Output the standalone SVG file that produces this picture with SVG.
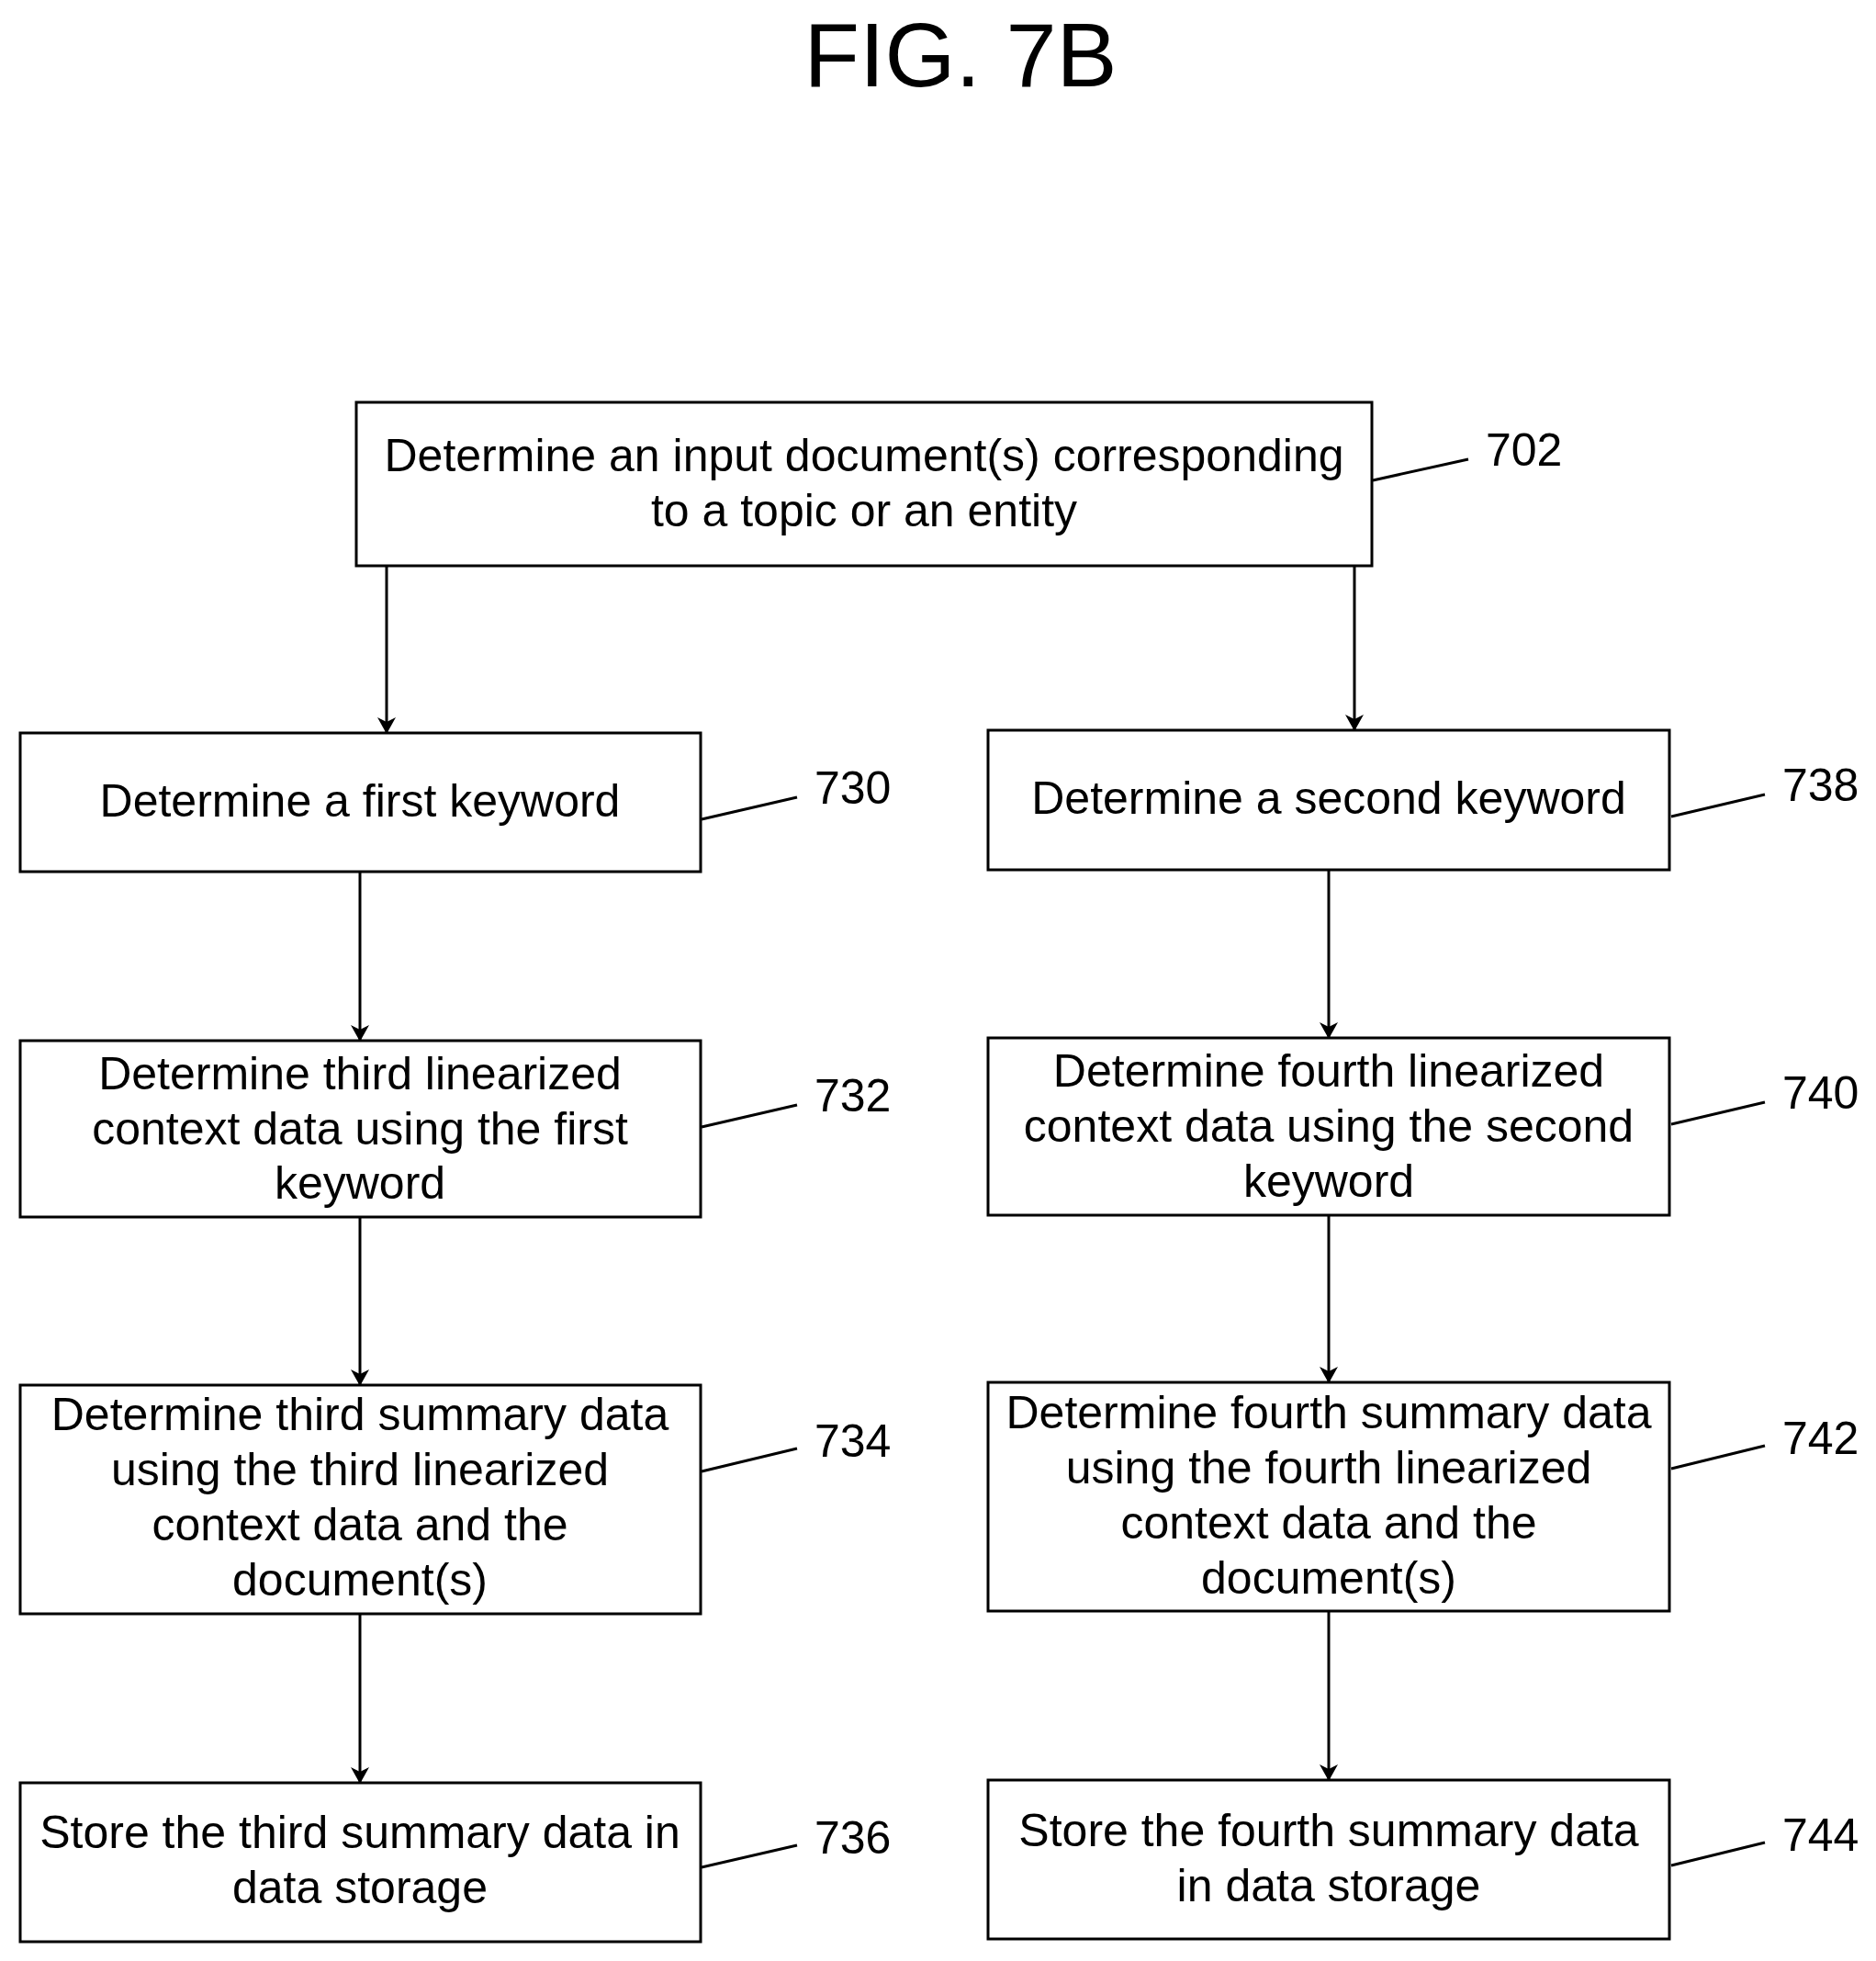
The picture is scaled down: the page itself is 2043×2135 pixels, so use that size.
<svg xmlns="http://www.w3.org/2000/svg" width="2043" height="2135" viewBox="0 0 2043 2135">
<style>
rect.b{fill:#fff;stroke:#000;stroke-width:3}
text{font-family:"Liberation Sans",Arial,sans-serif;font-size:50px;fill:#000}
.c{text-anchor:middle}
.ld{stroke:#000;stroke-width:3;fill:none}
.ar{stroke:#000;stroke-width:3;fill:none;marker-end:url(#ah)}
</style>
<defs><marker id="ah" markerWidth="18" markerHeight="30" refX="17" refY="15" orient="auto" markerUnits="userSpaceOnUse"><path d="M0,5 L18,15 L0,25 L5,15 Z" fill="#000"/></marker></defs>
<rect width="2043" height="2135" fill="#fff"/>
<text x="1046" y="94" class="c" style="font-size:99px">FIG. 7B</text>
<g id="n702"><rect class="b" x="388" y="438" width="1106" height="178"/><text x="941" y="513" class="c">Determine an input document(s) corresponding</text><text x="941" y="573" class="c">to a topic or an entity</text><text x="1618" y="507">702</text><line class="ld" x1="1495" y1="523" x2="1599" y2="500"/></g>
<g id="n730"><rect class="b" x="22" y="798" width="741" height="151"/><text x="392" y="889" class="c">Determine a first keyword</text><text x="887" y="875">730</text><line class="ld" x1="764" y1="892" x2="868" y2="868"/></g>
<g id="n738"><rect class="b" x="1076" y="795" width="742" height="152"/><text x="1447" y="886" class="c">Determine a second keyword</text><text x="1941" y="872">738</text><line class="ld" x1="1820" y1="889" x2="1922" y2="865"/></g>
<g id="n732"><rect class="b" x="22" y="1133" width="741" height="192"/><text x="392" y="1186" class="c">Determine third linearized</text><text x="392" y="1246" class="c">context data using the first</text><text x="392" y="1305" class="c">keyword</text><text x="887" y="1210">732</text><line class="ld" x1="764" y1="1227" x2="868" y2="1203"/></g>
<g id="n740"><rect class="b" x="1076" y="1130" width="742" height="193"/><text x="1447" y="1183" class="c">Determine fourth linearized</text><text x="1447" y="1243" class="c">context data using the second</text><text x="1447" y="1303" class="c">keyword</text><text x="1941" y="1207">740</text><line class="ld" x1="1820" y1="1224" x2="1922" y2="1200"/></g>
<g id="n734"><rect class="b" x="22" y="1508" width="741" height="249"/><text x="392" y="1557" class="c">Determine third summary data</text><text x="392" y="1617" class="c">using the third linearized</text><text x="392" y="1677" class="c">context data and the</text><text x="392" y="1737" class="c">document(s)</text><text x="887" y="1586">734</text><line class="ld" x1="764" y1="1602" x2="868" y2="1577"/></g>
<g id="n742"><rect class="b" x="1076" y="1505" width="742" height="249"/><text x="1447" y="1555" class="c">Determine fourth summary data</text><text x="1447" y="1615" class="c">using the fourth linearized</text><text x="1447" y="1675" class="c">context data and the</text><text x="1447" y="1735" class="c">document(s)</text><text x="1941" y="1583">742</text><line class="ld" x1="1820" y1="1599" x2="1922" y2="1574"/></g>
<g id="n736"><rect class="b" x="22" y="1941" width="741" height="173"/><text x="392" y="2012" class="c">Store the third summary data in</text><text x="392" y="2072" class="c">data storage</text><text x="887" y="2018">736</text><line class="ld" x1="764" y1="2033" x2="868" y2="2009"/></g>
<g id="n744"><rect class="b" x="1076" y="1938" width="742" height="173"/><text x="1447" y="2010" class="c">Store the fourth summary data</text><text x="1447" y="2070" class="c">in data storage</text><text x="1941" y="2015">744</text><line class="ld" x1="1820" y1="2031" x2="1922" y2="2006"/></g>
<g id="connectors">
<line class="ar" x1="421" y1="616" x2="421" y2="798"/>
<line class="ar" x1="1475" y1="616" x2="1475" y2="795"/>
<line class="ar" x1="392" y1="949" x2="392" y2="1133"/>
<line class="ar" x1="1447" y1="947" x2="1447" y2="1130"/>
<line class="ar" x1="392" y1="1325" x2="392" y2="1508"/>
<line class="ar" x1="1447" y1="1323" x2="1447" y2="1505"/>
<line class="ar" x1="392" y1="1757" x2="392" y2="1941"/>
<line class="ar" x1="1447" y1="1754" x2="1447" y2="1938"/>
</g>
</svg>
